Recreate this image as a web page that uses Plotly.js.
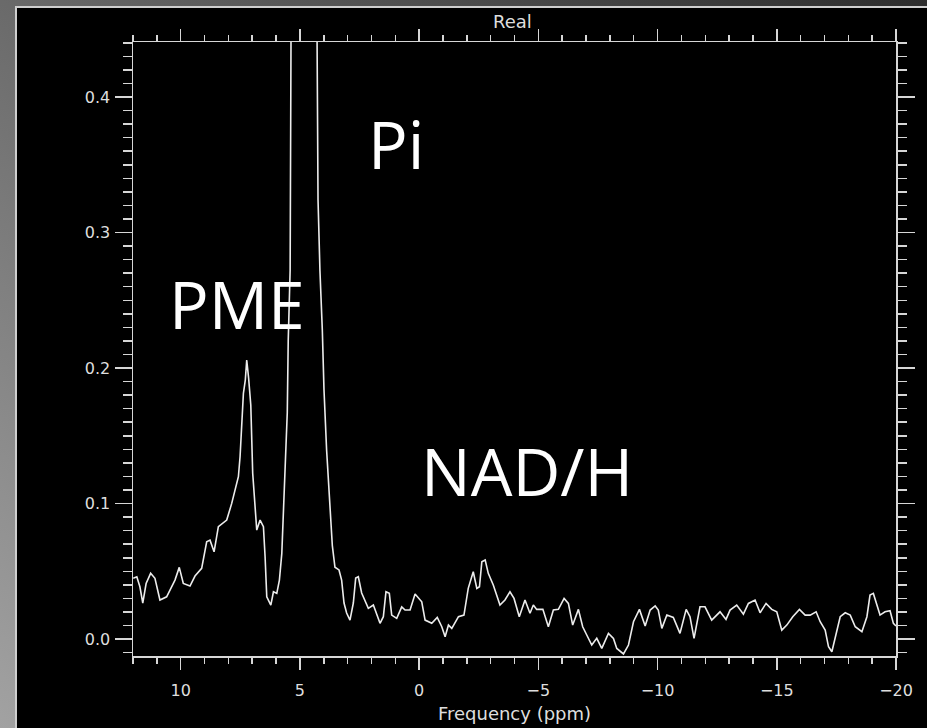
<!DOCTYPE html>
<html>
<head>
<meta charset="utf-8">
<script src="https://cdn.plot.ly/plotly-3.0.1.min.js"></script>
<style>
  html, body { margin: 0; padding: 0; width: 927px; height: 728px; overflow: hidden;
    background: linear-gradient(to top right, #a2a2a2 0%, #6a6a6a 50%, #2e2e2e 100%); }
  #frame { position: absolute; left: 15px; top: 6px; width: 912px; height: 722px;
    border-left: 2px solid #cfcfcf; border-top: 2px solid #cfcfcf; background: #000; box-sizing: border-box; }
  #chart { position: absolute; left: 0px; top: 0px; width: 910px; height: 720px; }
</style>
</head>
<body>
<div id="frame"><div id="chart"></div></div>
<script>
// Chemical shift (ppm) and spectrum intensity
const ppm = [
  11.99, 11.84, 11.71, 11.59, 11.45, 11.26, 11.08, 10.87, 10.59, 10.24, 10.06, 9.89, 9.61, 9.40, 9.12,
  8.91, 8.77, 8.60, 8.42, 8.21, 8.07, 7.86, 7.72, 7.58, 7.51, 7.44, 7.37, 7.29, 7.23, 7.15, 7.06,
  6.98, 6.90, 6.81, 6.67, 6.53, 6.46, 6.39, 6.22, 6.11, 5.97, 5.86, 5.76, 5.70, 5.60, 5.53, 5.49,
  5.41, 5.35, 5.12, 4.83, 4.53, 4.30, 4.24, 4.16, 4.06, 3.99, 3.88, 3.81, 3.74, 3.64, 3.53, 3.36,
  3.25, 3.15, 3.04, 2.90, 2.76, 2.66, 2.55, 2.41, 2.13, 1.92, 1.64, 1.50, 1.39, 1.25, 1.15, 0.94,
  0.73, 0.59, 0.38, 0.17, -0.11, -0.25, -0.53, -0.76, -0.95, -1.09, -1.23, -1.37, -1.65, -1.88,
  -2.06, -2.27, -2.42, -2.53, -2.63, -2.77, -2.90, -3.11, -3.39, -3.60, -3.81, -3.98, -4.20, -4.44,
  -4.65, -4.79, -4.93, -5.19, -5.42, -5.63, -5.84, -6.08, -6.26, -6.44, -6.68, -6.86, -7.03, -7.24,
  -7.45, -7.66, -7.94, -8.15, -8.29, -8.57, -8.78, -8.99, -9.24, -9.48, -9.69, -9.90, -10.03,
  -10.18, -10.39, -10.66, -10.94, -11.20, -11.36, -11.53, -11.78, -11.99, -12.27, -12.62, -12.87,
  -13.04, -13.32, -13.60, -13.81, -14.09, -14.30, -14.55, -14.79, -15.00, -15.21, -15.42, -15.67,
  -15.95, -16.19, -16.40, -16.65, -16.82, -17.03, -17.17, -17.31, -17.45, -17.66, -17.87, -18.08,
  -18.29, -18.57, -18.78, -18.91, -19.05, -19.19, -19.33, -19.54, -19.75, -19.89, -20.00
];
const intensity = [
  0.0448, 0.0460, 0.0386, 0.0266, 0.0410, 0.0485, 0.0448, 0.0288, 0.0312, 0.0435, 0.0529, 0.0411, 0.0391, 0.0465, 0.0522,
  0.0718, 0.0730, 0.0644, 0.0829, 0.0858, 0.0878, 0.1001, 0.1100, 0.1198, 0.1345, 0.1567, 0.1813, 0.1911, 0.2059, 0.1924, 0.1727,
  0.1223, 0.1001, 0.0804, 0.0878, 0.0829, 0.0607, 0.0312, 0.0251, 0.0349, 0.0337, 0.0435, 0.0630, 0.0900, 0.1390, 0.1670, 0.2200,
  0.2720, 0.5500, 0.8000, 0.9500, 0.8000, 0.5000, 0.3240, 0.2720, 0.2280, 0.1840, 0.1395, 0.1170, 0.0950, 0.0690, 0.0530, 0.0510,
  0.0435, 0.0266, 0.0192, 0.0140, 0.0266, 0.0450, 0.0460, 0.0340, 0.0227, 0.0251, 0.0116, 0.0165, 0.0349, 0.0337, 0.0177, 0.0153,
  0.0238, 0.0214, 0.0214, 0.0332, 0.0275, 0.0140, 0.0116, 0.0160, 0.0091, 0.0017, 0.0103, 0.0079, 0.0165, 0.0177,
  0.0374, 0.0497, 0.0374, 0.0386, 0.0570, 0.0583, 0.0485, 0.0399, 0.0251, 0.0288, 0.0349, 0.0300, 0.0165, 0.0288,
  0.0190, 0.0251, 0.0219, 0.0219, 0.0091, 0.0214, 0.0219, 0.0300, 0.0263, 0.0103, 0.0219, 0.0091, 0.0030, -0.0044,
  0.0005, -0.0069, 0.0042, 0.0005, -0.0069, -0.0110, -0.0044, 0.0128, 0.0219, 0.0096, 0.0214, 0.0244, 0.0214,
  0.0079, 0.0177, 0.0160, 0.0042, 0.0219, 0.0165, 0.0005, 0.0238, 0.0238, 0.0140, 0.0201, 0.0145,
  0.0214, 0.0251, 0.0184, 0.0263, 0.0288, 0.0194, 0.0263, 0.0219, 0.0201, 0.0066, 0.0103, 0.0165,
  0.0219, 0.0177, 0.0177, 0.0201, 0.0128, 0.0066, -0.0057, -0.0094, 0.0017, 0.0165, 0.0194, 0.0177,
  0.0091, 0.0054, 0.0165, 0.0325, 0.0337, 0.0263, 0.0177, 0.0201, 0.0209, 0.0116, 0.0096
];
const xTickVals = [10, 5, 0, -5, -10, -15, -20];
const xTickText = ['10', '5', '0', '\u22125', '\u221210', '\u221215', '\u221220'];
const yTickVals = [0.0, 0.1, 0.2, 0.3, 0.4];
const yTickText = ['0.0', '0.1', '0.2', '0.3', '0.4'];
const plotTitle = 'Real';
const xTitle = 'Frequency (ppm)';
const peakNames = ['Pi', 'PME', 'NAD/H'];

const axisColor = '#d6d6d6';
const tickFont = { family: 'DejaVu Sans, sans-serif', size: 16, color: '#dedede' };

const trace = {
  x: ppm, y: intensity, type: 'scatter', mode: 'lines',
  line: { color: '#ececec', width: 1.6 }, hoverinfo: 'skip'
};

// plot area in page pixels: left 133, right 896, top 42, bottom 656 (chart div at page 17,8)
const layout = {
  width: 910, height: 720,
  margin: { l: 116, r: 31, t: 34, b: 72, pad: 0 },
  paper_bgcolor: '#000', plot_bgcolor: '#000',
  showlegend: false,
  xaxis: {
    range: [12, -20], tickvals: xTickVals, ticktext: xTickText,
    showline: true, linecolor: axisColor, linewidth: 1.5, mirror: 'allticks',
    ticks: 'outside', ticklen: 12, tickwidth: 1.5, tickcolor: axisColor,
    minor: { ticks: 'outside', dtick: 1, tick0: 0, ticklen: 6, tickwidth: 1.5, tickcolor: axisColor, showgrid: false },
    showgrid: false, zeroline: false, tickfont: tickFont, ticklabelstandoff: 7,
    title: { text: xTitle, font: { family: 'DejaVu Sans, sans-serif', size: 18, color: '#dedede' }, standoff: 8 }
  },
  yaxis: {
    range: [-0.0125, 0.4406], tickvals: yTickVals, ticktext: yTickText,
    showline: true, linecolor: axisColor, linewidth: 1.5, mirror: 'allticks',
    ticks: 'outside', ticklen: 17, tickwidth: 1.5, tickcolor: axisColor,
    minor: { ticks: 'outside', dtick: 0.01, tick0: 0, ticklen: 9, tickwidth: 1.5, tickcolor: axisColor, showgrid: false },
    showgrid: false, zeroline: false, tickfont: tickFont, ticklabelstandoff: 1
  },
  annotations: [
    { text: plotTitle, xref: 'paper', yref: 'paper', x: (512 - 133) / 763, y: 1.0, yanchor: 'bottom', showarrow: false,
      yshift: 8, font: { family: 'DejaVu Sans, sans-serif', size: 18, color: '#dedede' } },
    { text: peakNames[0], xref: 'paper', yref: 'paper', x: (396 - 133) / 763, y: (656 - 143) / 614,
      xanchor: 'center', yanchor: 'middle', showarrow: false,
      font: { family: 'Open Sans, sans-serif', size: 66, color: '#ffffff' } },
    { text: peakNames[1], xref: 'paper', yref: 'paper', x: (237 - 133) / 763, y: (656 - 303) / 614,
      xanchor: 'center', yanchor: 'middle', showarrow: false,
      font: { family: 'Open Sans, sans-serif', size: 66, color: '#ffffff' } },
    { text: peakNames[2], xref: 'paper', yref: 'paper', x: (527 - 133) / 763, y: (656 - 470) / 614,
      xanchor: 'center', yanchor: 'middle', showarrow: false,
      font: { family: 'Open Sans, sans-serif', size: 66, color: '#ffffff' } }
  ]
};

Plotly.newPlot('chart', [trace], layout, { displayModeBar: false, staticPlot: true });
</script>
</body>
</html>
